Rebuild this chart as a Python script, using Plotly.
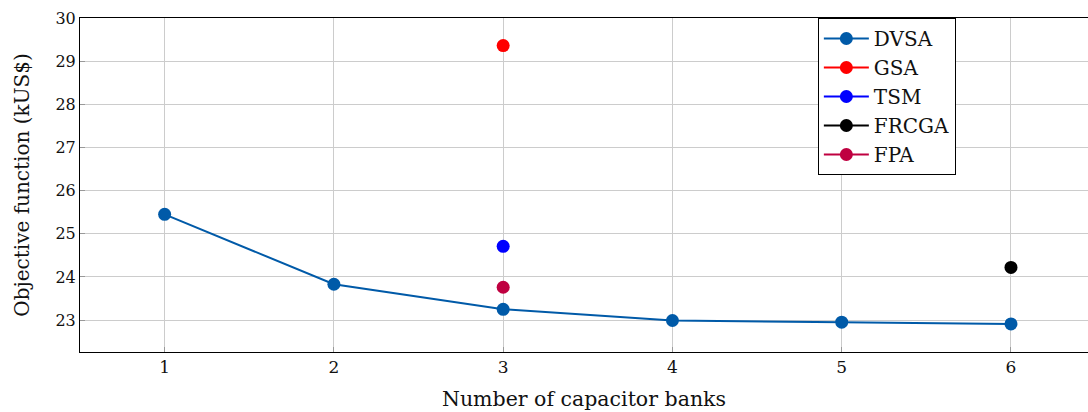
import plotly.graph_objects as go

banks = [1, 2, 3, 4, 5, 6]
dvsa = [25.45, 23.83, 23.25, 22.99, 22.95, 22.91]
gsa_x = [3]
gsa = [29.36]
tsm_x = [3]
tsm = [24.71]
frcga_x = [6]
frcga = [24.22]
fpa_x = [3]
fpa = [23.76]

xticks = [1, 2, 3, 4, 5, 6]
yticks = [23, 24, 25, 26, 27, 28, 29, 30]

FONT = "DejaVu Serif"

fig = go.Figure()
series = [
    ("DVSA", banks, dvsa, "#005aa8"),
    ("GSA", gsa_x, gsa, "#ff0000"),
    ("TSM", tsm_x, tsm, "#0000ff"),
    ("FRCGA", frcga_x, frcga, "#000000"),
    ("FPA", fpa_x, fpa, "#bf0040"),
]
for name, xs, ys, col in series:
    fig.add_trace(go.Scatter(
        x=xs, y=ys, name=name, mode="lines+markers",
        line=dict(color=col, width=2),
        marker=dict(color=col, size=13),
    ))

fig.update_layout(
    width=1088, height=412,
    margin=dict(l=80, r=0, t=18, b=60),
    plot_bgcolor="white", paper_bgcolor="white",
    font=dict(family=FONT, size=16, color="#111"),
    showlegend=True,
    legend=dict(
        x=0.732, y=1, xanchor="left", yanchor="top",
        bgcolor="white", bordercolor="black", borderwidth=1,
        font=dict(family=FONT, size=20, color="#111"),
        itemwidth=45, tracegroupgap=0,
    ),
    xaxis=dict(
        range=[0.5, 6.455], tickvals=xticks,
        showgrid=True, gridcolor="#cccccc", gridwidth=1,
        showline=True, linecolor="black", linewidth=1, mirror=True,
        ticks="inside", ticklen=5, tickcolor="#999",
        zeroline=False,
        tickfont=dict(size=17),
        title=dict(text="Number of capacitor banks", font=dict(size=20.5), standoff=15),
    ),
    yaxis=dict(
        range=[22.26, 30], tickvals=yticks,
        showgrid=True, gridcolor="#cccccc", gridwidth=1,
        showline=True, linecolor="black", linewidth=1,
        ticks="inside", ticklen=5, tickcolor="#999",
        zeroline=False,
        tickfont=dict(size=16),
        title=dict(text="Objective function (kUS$)", font=dict(size=20), standoff=20),
    ),
)

fig.write_html("out.html")
